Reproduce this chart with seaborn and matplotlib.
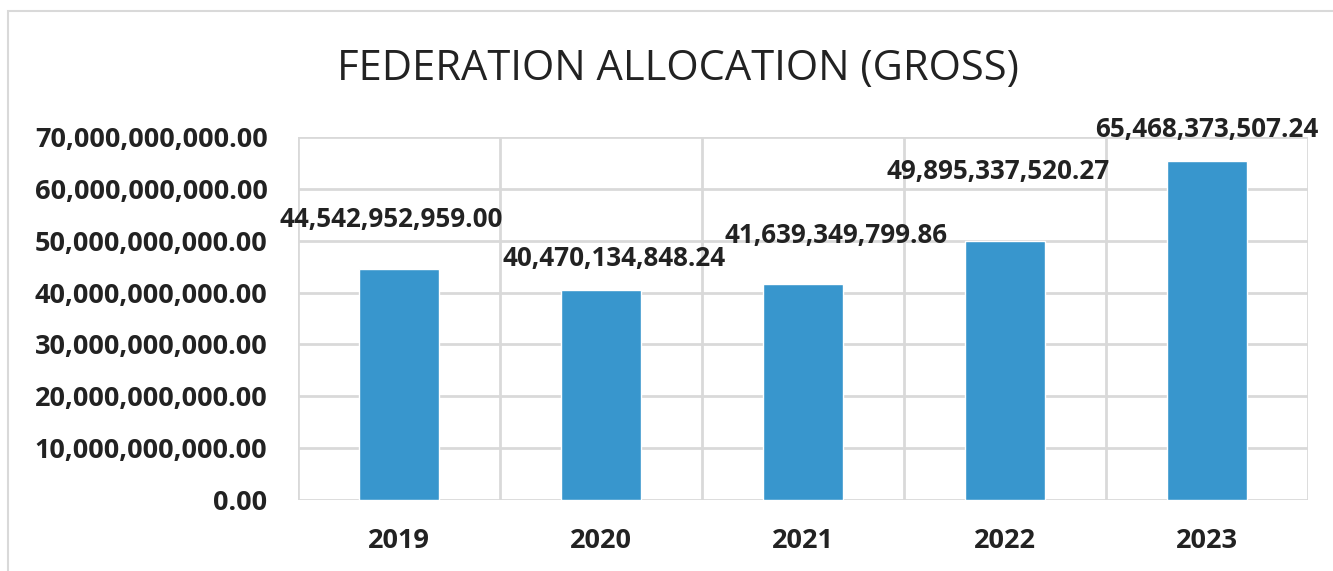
import matplotlib.pyplot as plt
import matplotlib.ticker as mticker
import numpy as np
import pandas as pd
import seaborn as sns
from matplotlib.patches import Rectangle

years = ['2019', '2020', '2021', '2022', '2023']
allocation = [44542952959.00, 40470134848.24, 41639349799.86, 49895337520.27, 65468373507.24]
bar_labels = ['44,542,952,959.00', '40,470,134,848.24', '41,639,349,799.86',
              '49,895,337,520.27', '65,468,373,507.24']
# label offsets (points) relative to bar top centre, as placed in the original
label_offsets = [(-6, 36), (9, 23), (24, 35), (-5, 50), (0, 22)]

df = pd.DataFrame({'year': years, 'allocation': allocation})

sns.set_style('white')
plt.rcParams['font.family'] = ['Open Sans', 'DejaVu Sans']

fig = plt.figure(figsize=(13.33, 5.71), dpi=100)
ax = fig.add_axes([0.2236, 0.1243, 0.7577, 0.6357])

sns.barplot(data=df, x='year', y='allocation', color='#3896cd', width=0.4,
            saturation=1, ax=ax, zorder=3)

ax.set_ylim(0, 70e9)
ax.set_xlim(-0.5, 4.5)
ax.set_yticks(np.arange(0, 70e9 + 1, 10e9))
ax.yaxis.set_major_formatter(mticker.FuncFormatter(lambda v, p: f'{v:,.2f}'))
ax.set_xticks(np.arange(-0.5, 5, 1), minor=True)
ax.grid(axis='y', color='#d9d9d9', linewidth=2, zorder=0)
ax.grid(axis='x', which='minor', color='#d9d9d9', linewidth=2, zorder=0)
ax.grid(axis='x', which='major', visible=False)
ax.tick_params(axis='both', which='both', length=0)
ax.tick_params(axis='y', labelsize=19.5, pad=22)
ax.tick_params(axis='x', labelsize=19.5, pad=20)
for t in ax.get_xticklabels() + ax.get_yticklabels():
    t.set_fontweight('bold')
    t.set_color('#222222')
for s in ax.spines.values():
    s.set_visible(False)
ax.set_xlabel('')
ax.set_ylabel('')

for i, (v, lab, off) in enumerate(zip(allocation, bar_labels, label_offsets)):
    ax.annotate(lab, (i, v), xytext=off, textcoords='offset points',
                ha='center', va='center', fontsize=18.7, fontweight='bold',
                color='#222222')

fig.text(0.5086, 0.88, 'FEDERATION ALLOCATION (GROSS)', ha='center', va='center',
         fontsize=30, color='#222222')

fig.patches.append(Rectangle((0.006, -0.1), 1.2, 1.08, transform=fig.transFigure,
                             fill=False, edgecolor='#d9d9d9', linewidth=1.5))

fig.savefig('out.png', dpi=100)
